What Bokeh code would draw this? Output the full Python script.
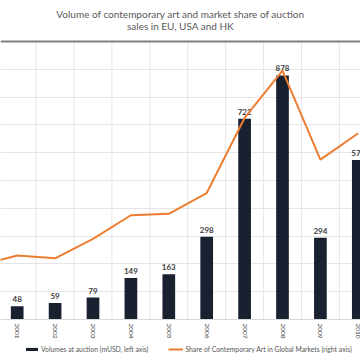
import math
from bokeh.plotting import figure
from bokeh.models import (Range1d, FixedTicker, Legend, LegendItem, Label,
                          ColumnDataSource, Span)
from bokeh.core.properties import value
from bokeh.embed import file_html
from bokeh.resources import INLINE

# ---- data ----
bar_years = [2001, 2002, 2003, 2004, 2005, 2006, 2007, 2008, 2009, 2010]
volumes = [48, 59, 79, 149, 163, 298, 722, 878, 294, 574]
line_years = [2000, 2001, 2002, 2003, 2004, 2005, 2006, 2007, 2008, 2009, 2010]
share = [3.9, 4.6, 4.4, 5.8, 7.5, 7.6, 9.1, 14.5, 17.9, 11.5, 13.4]
year_labels = [str(y) for y in bar_years]

title1 = "Volume of contemporary art and market share of auction"
title2 = "sales in EU, USA and HK"
bar_name = "Volumes at auction (mUSD, left axis)"
line_name = "Share of Contemporary Art in Global Markets (right axis)"

FONT = "Lato"

# ---- layout helpers (frame covers the whole canvas) ----
W = H = 360
STEP = 37.9                         # px per category
X0 = bar_years[0] - 16.7 / STEP     # visible category window
X1 = X0 + W / STEP
PLOT_TOP, PLOT_BOT = 41, 319        # value axis 1000 .. 0 in canvas px
VMAX = 1000
u = (PLOT_BOT - PLOT_TOP) / VMAX    # px per unit
y_lo = -(H - PLOT_BOT) / u
y_hi = VMAX + PLOT_TOP / u
SMAX = 20                           # secondary (share, %) axis top
k = SMAX / VMAX

def y_at(px):
    return (PLOT_BOT - px) / u

def x_at(px):
    return X0 + (X1 - X0) * px / W

p = figure(width=W, height=H, output_backend="svg", toolbar_location=None,
           x_range=Range1d(X0, X1), y_range=Range1d(y_lo, y_hi),
           x_axis_location=None, y_axis_location=None,
           min_border=0)
p.extra_y_ranges = {"share": Range1d(y_lo * k, y_hi * k)}
p.outline_line_color = None
p.background_fill_color = "white"
p.border_fill_color = "white"
p.title.visible = False

# grids
p.ygrid.ticker = FixedTicker(ticks=list(range(100, VMAX, 100)))
p.ygrid.grid_line_color = "#e6e6e6"
p.ygrid.grid_line_width = 1
p.xgrid.visible = False
sep = [y + 0.5 for y in bar_years[:-1]]
p.segment(x0=sep, y0=[0] * len(sep), x1=sep, y1=[VMAX] * len(sep),
          line_color="#e6e6e6", line_width=1)

p.add_layout(Span(location=0, dimension="width", line_color="#d9d9d9", line_width=1))
p.add_layout(Span(location=VMAX, dimension="width", line_color="#7f7f7f", line_width=2))

# bars + value labels
src = ColumnDataSource(dict(x=bar_years, v=volumes, t=[str(v) for v in volumes],
                            z=[0] * len(bar_years), yl=year_labels))
bars = p.vbar(x="x", top="v", width=0.335, source=src, fill_color="#19202f", line_color=None)
p.text(x="x", y="v", text="t", source=src, text_align="center", text_baseline="bottom",
       y_offset=-4, text_font=value(FONT), text_font_size="8px", text_font_style="bold",
       text_color="#404040")

# category labels (rotated)
p.text(x="x", y="z", text="yl", source=src, angle=-math.pi / 2, text_align="left",
       text_baseline="middle", y_offset=4, text_font=value(FONT), text_font_size="6.5px",
       text_color="#404040")

# share line
ln = p.line(line_years, share, y_range_name="share", line_color="#ED7D31", line_width=2)

# titles
for txt, py in ((title1, 13.3), (title2, 25.5)):
    p.add_layout(Label(x=x_at(180), y=y_at(py), text=txt, text_align="center",
                       text_baseline="middle", text_font=FONT, text_font_size="10px",
                       text_color="#595959"))

legend = Legend(items=[LegendItem(label=bar_name, renderers=[bars]),
                       LegendItem(label=line_name, renderers=[ln])],
                orientation="horizontal", location=(24, 7),
                label_text_font=FONT, label_text_font_size="6.8px", label_text_color="#595959",
                glyph_width=15, glyph_height=4, label_standoff=2, spacing=20,
                padding=0, margin=0, border_line_color=None, background_fill_alpha=0,
                label_height=7)
p.add_layout(legend, "center")

open("out.html", "w").write(file_html(p, INLINE))
